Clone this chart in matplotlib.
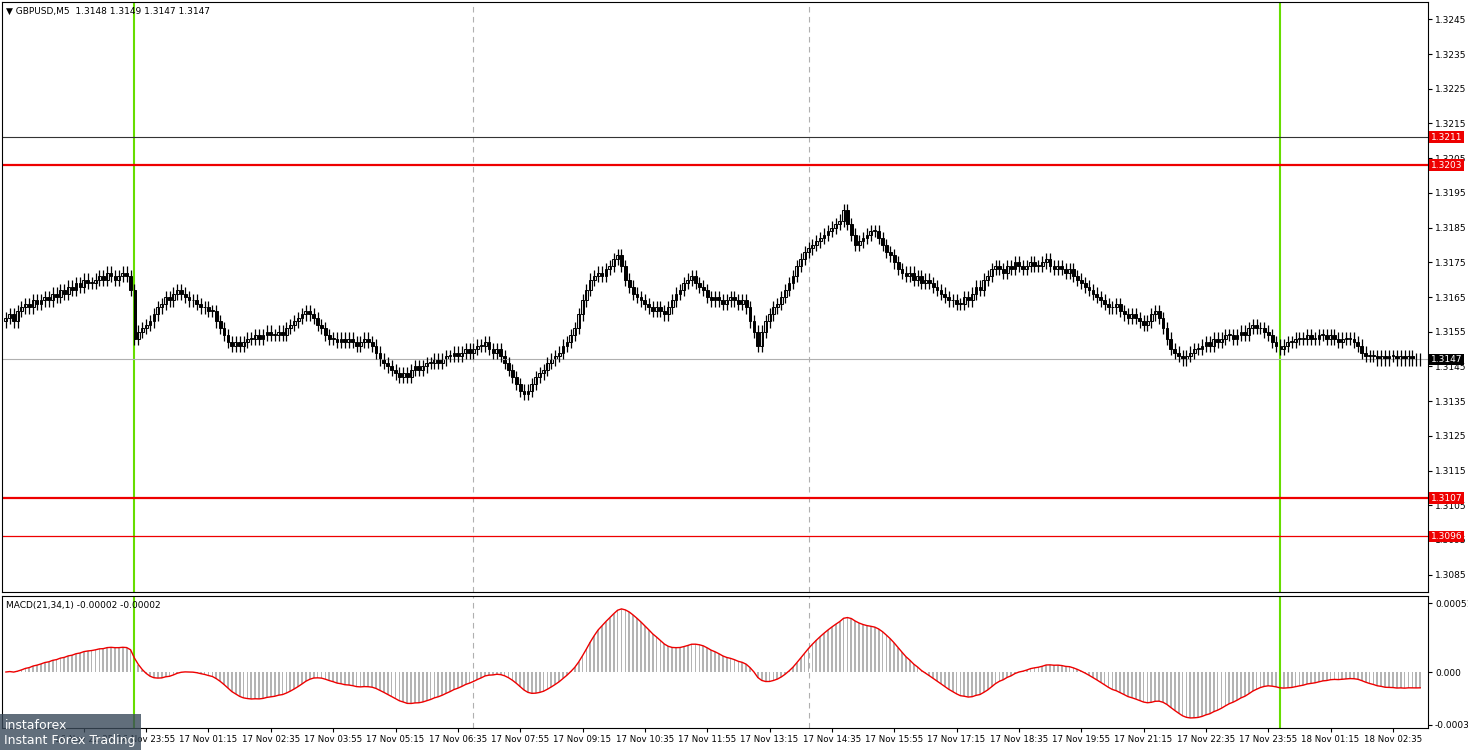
import matplotlib
matplotlib.use("Agg")
import matplotlib.pyplot as plt
import numpy as np
from datetime import datetime, timedelta

# closes in pips above 1.3100
close_pips = [59,60,58,61,62,63,62,64,63,64,
 65,64,66,65,67,66,68,67,69,68,70,69,69,
 70,71,70,72,71,70,71,72,71,
 67,53,55,56,57,58,
 60,62,63,65,64,66,67,
 66,65,64,64,63,62,62,61,61,
 58,56,54,52,51,52,51,
 52,53,53,54,53,54,55,54,54,
 55,54,56,57,58,59,60,61,
 60,59,57,56,54,53,
 53,52,53,52,53,52,51,52,53,52,51,
 49,47,46,45,44,43,42,
 43,42,44,45,44,45,46,46,47,46,47,
 48,48,49,48,49,50,49,50,51,51,
 52,50,49,50,48,
 46,44,42,40,38,37,
 38,40,42,43,44,
 46,47,48,49,51,52,54,56,
 60,64,67,70,
 71,72,71,73,74,76,77,
 74,70,68,66,65,64,
 63,62,61,62,61,60,
 62,64,66,67,69,70,71,
 69,68,67,65,64,
 65,64,63,64,65,64,63,64,
 62,58,55,51,
 55,58,60,62,63,
 65,67,69,71,74,76,
 78,79,80,81,82,
 83,84,85,86,87,90,
 86,83,80,
 81,82,83,84,84,
 82,80,78,77,75,73,
 72,71,72,70,71,69,70,69,
 68,67,66,65,64,64,63,63,
 65,64,66,68,67,70,71,73,74,
 73,72,74,73,75,74,73,74,75,74,74,
 75,76,74,73,74,73,72,73,
 71,70,69,68,67,
 66,65,64,63,62,
 62,63,61,60,59,60,59,58,
 57,58,60,61,59,
 56,53,50,49,48,
 47,48,49,50,50,
 51,52,51,53,52,53,54,54,
 53,54,55,54,56,57,56,56,
 55,54,52,51,50,
 51,52,52,53,53,
 53,54,53,53,54,54,53,54,53,52,53,53,53,
 52,51,49,48,48,
 48,47,48,47,48,48,47,48,47,48,47,47,47]
open_first_pips = 58
start_time = "2024-11-16 20:55"
level_lines = [1.3203, 1.3107]
thin_red = [1.3096]
dark_line = [1.3211]
last_price = 1.3147
green_bars = [33, 327]
dashed_bars = [120, 206]

closes = 1.31 + np.array(close_pips) / 1e4
n = len(closes)
opens = np.concatenate([[1.31 + open_first_pips / 1e4], closes[:-1]])
highs = np.maximum(opens, closes) + 0.00018
lows = np.minimum(opens, closes) - 0.00018
x = np.arange(n)

fig = plt.figure(figsize=(14.68, 7.5), dpi=100)
ax = fig.add_axes([2/1468, 1-592/750, 1426/1468, 590/750])
ax2 = fig.add_axes([2/1468, 1-728/750, 1426/1468, 132/750])
for a in (ax, ax2):
    for s in a.spines.values():
        s.set_color("black"); s.set_linewidth(0.8)
    a.yaxis.tick_right()
    a.tick_params(axis="y", labelsize=6.5, length=3, pad=2)

ax.set_xlim(-1, n + 1)
ax.set_ylim(1.3080, 1.3250)
ax.set_yticks(np.arange(1.3085, 1.3250, 0.0010))
ax.set_yticklabels([f"{v:.4f}" for v in np.arange(1.3085, 1.3250, 0.0010)])
ax.set_xticks([])

for b in dashed_bars:
    ax.axvline(b, color="#b0b0b0", ls=(0, (5, 4)), lw=0.8)
    ax2.axvline(b, color="#b0b0b0", ls=(0, (5, 4)), lw=0.8)
for b in green_bars:
    ax.axvline(b, color="#66dd00", lw=1.5)
    ax2.axvline(b, color="#66dd00", lw=1.5)
ax.axhline(last_price, color="#b0b0b0", lw=0.8)
for v in level_lines:
    ax.axhline(v, color="#ee0000", lw=1.6)
for v in thin_red:
    ax.axhline(v, color="#ee0000", lw=0.9)
for v in dark_line:
    ax.axhline(v, color="#333333", lw=0.8)

for i in x:
    ax.vlines(i, lows[i], highs[i], color="black", lw=0.9)
    up = closes[i] >= opens[i]
    bot = min(opens[i], closes[i]); h = max(abs(closes[i] - opens[i]), 0.00002)
    ax.add_patch(plt.Rectangle((i - 0.36, bot), 0.72, h,
                 facecolor="white" if up else "black", edgecolor="black", lw=0.7))

def tag(a, v, fc, tc):
    a.text(1.002, v, f"{v:.4f}", transform=a.get_yaxis_transform(), fontsize=6.5,
           va="center", ha="left", color=tc,
           bbox=dict(boxstyle="square,pad=0.15", fc=fc, ec="none"))
for v in level_lines + thin_red + dark_line:
    tag(ax, v, "#ee0000", "white")
tag(ax, last_price, "black", "white")

ax.text(0.003, 0.992, "▼ GBPUSD,M5  1.3148 1.3149 1.3147 1.3147", transform=ax.transAxes,
        fontsize=6.5, va="top", ha="left")

# MACD
def ema(a, p):
    out = np.empty_like(a); k = 2 / (p + 1); out[0] = a[0]
    for i in range(1, len(a)):
        out[i] = a[i] * k + out[i - 1] * (1 - k)
    return out
macd = ema(closes, 21) - ema(closes, 34)
sig = ema(macd, 1)
ax2.set_xlim(-1, n + 1)
ax2.set_ylim(-0.000414, 0.000562)
ax2.bar(x, macd, width=0.45, color="#b4b4b4")
ax2.plot(x, sig, color="#ee0000", lw=1)
ax2.set_yticks([0.00051, 0.0, -0.00039])
ax2.set_yticklabels(["0.00051", "0.000", "-0.00039"])
ax2.text(0.003, 0.96, "MACD(21,34,1) -0.00002 -0.00002", transform=ax2.transAxes,
         fontsize=6.5, va="top", ha="left")

t0 = datetime.strptime(start_time, "%Y-%m-%d %H:%M")
ticks = list(range(20, n, 16))
ax2.set_xticks(ticks)
ax2.set_xticklabels([(t0 + timedelta(minutes=5 * b)).strftime("%d %b %H:%M").lstrip("0") for b in ticks],
                    fontsize=6.2)
ax2.tick_params(axis="x", length=3, pad=2)

fig.text(0.003, 0.004, "instaforex\nInstant Forex Trading", fontsize=9, color="white",
         bbox=dict(fc="#3a4a5a", ec="none", alpha=0.8), va="bottom", zorder=10)
fig.savefig("out.png", dpi=100, facecolor="white")
